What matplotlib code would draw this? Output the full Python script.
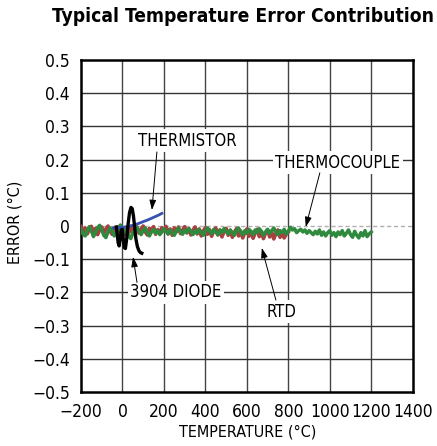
import numpy as np
import matplotlib
matplotlib.use("Agg")
import matplotlib.pyplot as plt

plt.rcParams['font.family'] = ['DejaVu Sans']
plt.rcParams['font.stretch'] = 'condensed'

# RTD: -200..800 step 10
rtd_t = np.arange(-200, 801, 10)
rtd_err = [
    -0.002, -0.018, -0.006, -0.024, -0.010, -0.001, -0.020, -0.007, -0.026, -0.012,
    -0.003, -0.022, -0.009, 0.000, -0.016, -0.025, -0.006, -0.019, -0.002, -0.021,
    -0.010, -0.026, -0.004, -0.020, -0.001, -0.024, -0.012, -0.003, -0.022, -0.009,
    0.000, -0.018, -0.027, -0.007, -0.016, -0.002, -0.025, -0.011, -0.021, -0.005,
    -0.014, -0.001, -0.024, -0.009, -0.028, -0.006, -0.018, -0.003, -0.023, -0.012,
    -0.002, -0.021, -0.008, -0.027, -0.013, -0.003, -0.024, -0.009, -0.030, -0.015,
    -0.005, -0.025, -0.011, -0.031, -0.016, -0.006, -0.027, -0.012, -0.033, -0.017,
    -0.007, -0.028, -0.013, -0.034, -0.019, -0.008, -0.030, -0.015, -0.036, -0.020,
    -0.009, -0.031, -0.016, -0.037, -0.021, -0.010, -0.032, -0.017, -0.038, -0.022,
    -0.011, -0.033, -0.018, -0.039, -0.023, -0.012, -0.034, -0.019, -0.036, -0.025,
    -0.018,
]

# thermocouple: -200..1200 step 10
tc_t = np.arange(-200, 1201, 10)
tc_err = [
    -0.010, -0.025, -0.030, -0.012, -0.002, -0.015, -0.032, -0.020, -0.005, 0.002,
    -0.012, -0.028, -0.035, -0.018, -0.006, -0.014, -0.030, -0.022, -0.008, 0.003,
    -0.006, -0.020, -0.012, -0.030, -0.038, -0.020, -0.010, -0.004, -0.016, -0.026,
    -0.014, -0.006, -0.020, -0.030, -0.018, -0.010, -0.022, -0.014, -0.026, -0.018,
    -0.008, -0.016, -0.024, -0.012, -0.020, -0.028, -0.015, -0.006, -0.018, -0.025,
    -0.012, -0.020, -0.008, -0.016, -0.026, -0.014, -0.022, -0.010, -0.018, -0.028,
    -0.016, -0.006, -0.014, -0.024, -0.010, -0.018, -0.026, -0.012, -0.020, -0.008,
    -0.016, -0.024, -0.012, -0.020, -0.028, -0.014, -0.006, -0.018, -0.026, -0.014,
    -0.022, -0.010, -0.018, -0.026, -0.012, -0.020, -0.008, -0.016, -0.028, -0.018,
    -0.010, -0.022, -0.014, -0.006, -0.018, -0.026, -0.014, -0.020, -0.010, -0.024,
    -0.016, -0.004, -0.012, -0.008, -0.020, -0.014, -0.010, -0.018, -0.012, -0.022,
    -0.014, -0.020, -0.026, -0.016, -0.024, -0.012, -0.028, -0.018, -0.030, -0.020,
    -0.014, -0.028, -0.020, -0.032, -0.018, -0.026, -0.014, -0.030, -0.022, -0.012,
    -0.026, -0.034, -0.016, -0.028, -0.036, -0.020, -0.030, -0.014, -0.032, -0.024,
    -0.018,
]

thermistor_t = [-45, -20, 0, 25, 50, 75, 100, 125, 150, 175, 190]
thermistor_err = [-0.006, -0.005, -0.004, -0.002, 0.002, 0.007, 0.013, 0.019, 0.026, 0.033, 0.038]

diode_t = [-30, -26, -21, -16, -11, -6, -1, 4, 9, 14, 20, 27, 34, 41, 47, 53, 59, 65, 72, 79, 86, 93]
diode_err = [-0.003, -0.020, -0.050, -0.060, -0.040, -0.012, -0.010, -0.040, -0.065, -0.068,
             -0.040, 0.005, 0.040, 0.056, 0.052, 0.030, -0.005, -0.040, -0.062, -0.074,
             -0.080, -0.082]

xticks = [-200, 0, 200, 400, 600, 800, 1000, 1200, 1400]
yticks = [-0.5, -0.4, -0.3, -0.2, -0.1, 0, 0.1, 0.2, 0.3, 0.4, 0.5]
ytick_labels = ['\u22120.5', '\u22120.4', '\u22120.3', '\u22120.2', '\u22120.1', '0',
                '0.1', '0.2', '0.3', '0.4', '0.5']

fig = plt.figure(figsize=(4.37, 4.46), dpi=100)
ax = fig.add_axes([0.1854, 0.1211, 0.7590, 0.7444])
ax.set_xlim(-200, 1400)
ax.set_ylim(-0.5, 0.5)

# grid
for x in xticks[1:-1]:
    ax.axvline(x, color='#444444', lw=1.0, zorder=1)
for y in yticks[1:-1]:
    if y == 0:
        ax.axhline(y, color='#b0b0b0', lw=1.0, ls=(0, (3, 2)), zorder=1)
    else:
        ax.axhline(y, color='#333333', lw=1.0, zorder=1)

ax.plot(rtd_t, rtd_err, color='#a8403f', lw=2.6, zorder=3)
ax.plot(tc_t, tc_err, color='#2f8a3e', lw=2.5, zorder=4)
ax.plot(thermistor_t, thermistor_err, color='#3450b0', lw=2.0, zorder=5)
ax.plot(diode_t, diode_err, color='black', lw=2.4, zorder=6)

ax.set_xticks(xticks)
ax.set_xticklabels([str(v).replace('-', '\u2212') for v in xticks])
ax.set_yticks(yticks)
ax.set_yticklabels(ytick_labels)
ax.tick_params(length=0, labelsize=12.5, pad=8)
for s in ax.spines.values():
    s.set_linewidth(1.8)

bbox = dict(boxstyle='square,pad=0.15', fc='white', ec='none')
arrow = dict(arrowstyle='-|>,head_length=0.6,head_width=0.2', color='black', lw=0.7,
             shrinkA=0, shrinkB=0)
fs = 12

ax.text(311, 0.256, 'THERMISTOR', ha='center', va='center', fontsize=fs, bbox=bbox, zorder=7)
ax.annotate('', xy=(142, 0.048), xytext=(166, 0.223), arrowprops=arrow, zorder=7)

ax.text(1039, 0.19, 'THERMOCOUPLE', ha='center', va='center', fontsize=fs, bbox=bbox, zorder=7)
ax.annotate('', xy=(884, -0.003), xytext=(952, 0.16), arrowprops=arrow, zorder=7)

ax.text(258, -0.199, '3904 DIODE', ha='center', va='center', fontsize=fs, bbox=bbox, zorder=7)
ax.annotate('', xy=(51, -0.093), xytext=(70, -0.17), arrowprops=arrow, zorder=7)

ax.text(769, -0.259, 'RTD', ha='center', va='center', fontsize=fs, bbox=bbox, zorder=7)
ax.annotate('', xy=(672, -0.066), xytext=(740, -0.223), arrowprops=arrow, zorder=7)

fig.text(0.034, 0.502, 'ERROR (\u00b0C)', rotation=90, ha='center', va='center', fontsize=11.5)
fig.text(0.567, 0.031, 'TEMPERATURE (\u00b0C)', ha='center', va='center', fontsize=11.5)
fig.text(0.557, 0.962, 'Typical Temperature Error Contribution', ha='center', va='center',
         fontsize=13.8, fontweight='bold')

fig.savefig('out.png', dpi=100)
